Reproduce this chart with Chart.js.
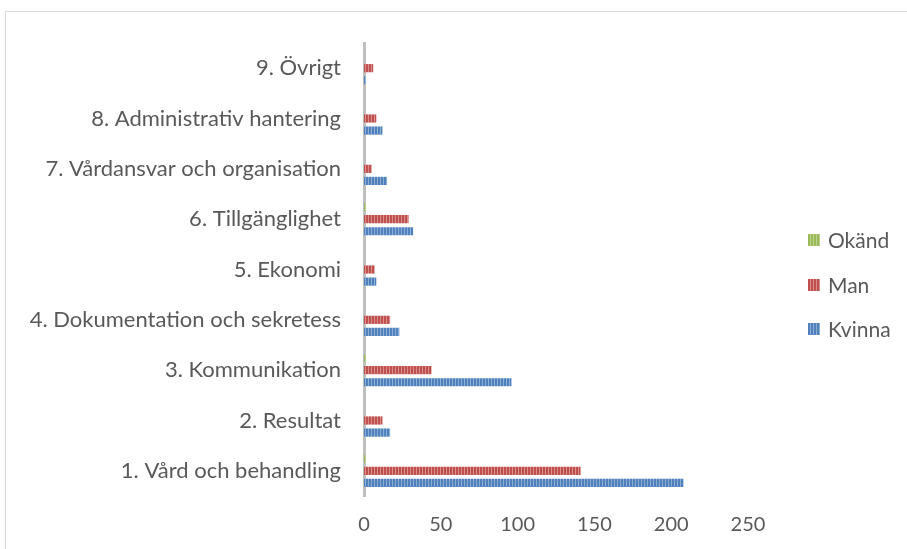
<!DOCTYPE html>
<html><head><meta charset="utf-8">
<script src="https://cdn.jsdelivr.net/npm/chart.js@4/dist/chart.umd.min.js"></script>
<style>
html,body{margin:0;padding:0;background:#fff;overflow:hidden;width:907px;height:549px;}
#frame{position:absolute;left:5px;top:11px;width:1200px;height:1200px;border:1px solid #d9d9d9;box-sizing:border-box;}
#wrap{position:absolute;left:0;top:0;width:907px;height:549px;}
#legend{position:absolute;left:808px;top:228px;font-family:Lato,"Open Sans",sans-serif;font-size:21px;color:#595959;}
.li{position:relative;height:24px;margin-bottom:20.7px;white-space:nowrap;}
.sw{position:absolute;left:0;top:6px;width:12px;height:12px;}
.lt{position:absolute;left:20px;top:0;line-height:24px;}
</style></head>
<body>
<div id="frame"></div>
<div id="wrap"><canvas id="c" width="907" height="549"></canvas></div>
<div id="legend"></div>
<script>
// Data (category 1 first)
const categories = ["1. Vård och behandling","2. Resultat","3. Kommunikation","4. Dokumentation och sekretess","5. Ekonomi","6. Tillgänglighet","7. Vårdansvar och organisation","8. Administrativ hantering","9. Övrigt"];
const kvinna = [208, 17, 96, 23, 8, 32, 15, 12, 1];
const man    = [141, 12, 44, 17, 7, 29, 5, 8, 6];
const okand  = [1, 0, 1, 0, 0, 1, 0, 0, 0];
const seriesNames = ["Okänd","Man","Kvinna"];
const xTicks = [0, 50, 100, 150, 200, 250];

const colors = {"Okänd":"#9bbb59","Man":"#c0504d","Kvinna":"#4f81bd"};
function stripe(color){
  const p=document.createElement('canvas');p.width=3;p.height=3;
  const g=p.getContext('2d');g.fillStyle=color;g.fillRect(0,0,3,3);
  g.fillStyle='rgba(255,255,255,0.35)';g.fillRect(2,0,1,3);
  return g.createPattern(p,'repeat');
}
const rev = a => a.slice().reverse();
const seriesData = {"Okänd":okand,"Man":man,"Kvinna":kvinna};
const datasets = seriesNames.map(n=>({label:n,data:rev(seriesData[n]),backgroundColor:stripe(colors[n]),borderWidth:0,categoryPercentage:0.72,barPercentage:0.68}));

new Chart(document.getElementById('c'),{
  type:'bar',
  data:{labels:rev(categories),datasets},
  options:{
    indexAxis:'y',responsive:false,animation:false,
    layout:{padding:{top:43,right:159,left:0,bottom:0}},
    plugins:{legend:{display:false},tooltip:{enabled:false}},
    scales:{
      x:{min:0,max:250,afterBuildTicks:s=>{s.ticks=xTicks.map(v=>({value:v}));},
         grid:{display:false,drawTicks:false},border:{display:false},
         ticks:{padding:17,color:'#595959',font:{family:'Lato, "Open Sans", sans-serif',size:20}},
         afterFit:s=>{s.height=53;}},
      y:{grid:{display:false,drawTicks:false,tickLength:0},border:{display:true,color:'#bfbfbf',width:3},
         ticks:{padding:23,color:'#595959',font:{family:'Lato, "Open Sans", sans-serif',size:22}},
         afterFit:s=>{s.width=364;}}
    }
  }
});
const lg=document.getElementById('legend');
seriesNames.forEach(n=>{
  const d=document.createElement('div');d.className='li';
  const sw=document.createElement('div');sw.className='sw';
  sw.style.background='repeating-linear-gradient(90deg,'+colors[n]+' 0 2px,rgba(255,255,255,0.35) 2px 3px),'+colors[n];
  sw.style.backgroundColor=colors[n];
  const t=document.createElement('div');t.className='lt';t.textContent=n;
  d.appendChild(sw);d.appendChild(t);lg.appendChild(d);
});
</script>
</body></html>
